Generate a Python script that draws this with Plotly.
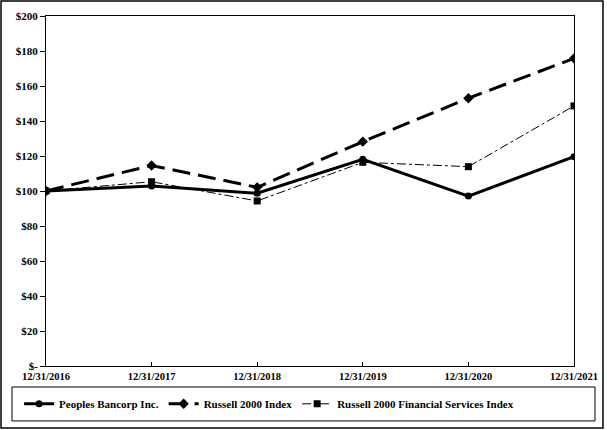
import plotly.graph_objects as go

# data (value of $100 invested)
dates = ["12/31/2016", "12/31/2017", "12/31/2018", "12/31/2019", "12/31/2020", "12/31/2021"]
peoples = [100.0, 102.9, 98.7, 118.1, 97.1, 119.6]
russell = [100.0, 114.6, 102.1, 128.2, 153.0, 175.8]
fin_services = [100.0, 105.3, 94.3, 116.4, 113.9, 148.6]

y_ticks = [0, 20, 40, 60, 80, 100, 120, 140, 160, 180, 200]
y_labels = ["$-", "$20", "$40", "$60", "$80", "$100", "$120", "$140", "$160", "$180", "$200"]

serif = "Liberation Serif"

fig = go.Figure()
fig.add_trace(go.Scatter(
    x=dates, y=peoples, name="Peoples Bancorp Inc.", mode="lines+markers",
    line=dict(color="black", width=3), marker=dict(symbol="circle", size=7, color="black")))
fig.add_trace(go.Scatter(
    x=dates, y=russell, name="Russell 2000 Index", mode="lines+markers",
    line=dict(color="black", width=3, dash="18px,8px"), marker=dict(symbol="diamond", size=8, color="black")))
fig.add_trace(go.Scatter(
    x=dates, y=fin_services, name="Russell 2000 Financial Services Index", mode="lines+markers",
    line=dict(color="black", width=1, dash="dashdot"), marker=dict(symbol="square", size=7, color="black")))

fig.update_layout(
    width=607, height=430,
    margin=dict(l=46, r=33, t=16, b=64, autoexpand=False),
    paper_bgcolor="white", plot_bgcolor="white",
    font=dict(family=serif, size=11, color="black", weight="bold"),
    showlegend=True,
    legend=dict(orientation="h", x=-0.051, xanchor="left", y=-0.108, yanchor="middle",
                bgcolor="rgba(0,0,0,0)",
                font=dict(family=serif, size=11, color="black", weight="bold"),
                itemwidth=30, tracegroupgap=0),
)
fig.update_xaxes(type="category", range=[0, 5], showgrid=False, zeroline=False, automargin=False,
                 showline=True, linecolor="black", linewidth=1, mirror=True,
                 ticks="inside", ticklen=4, tickcolor="black",
                 tickfont=dict(family=serif, size=10.5, color="black", weight="bold"))
fig.update_yaxes(range=[0, 200], tickvals=y_ticks, ticktext=y_labels, showgrid=False, zeroline=False,
                 automargin=False, showline=True, linecolor="black", linewidth=1, mirror=True,
                 ticks="outside", ticklen=5, tickcolor="black",
                 tickfont=dict(family=serif, size=11, color="black", weight="bold"))

# outer frame and legend box
fig.add_shape(type="rect", xref="paper", yref="paper", x0=-0.0852, x1=1.0549, y0=-0.1771, y1=1.0429,
              line=dict(color="black", width=1.5))
fig.add_shape(type="rect", xref="paper", yref="paper", x0=-0.0644, x1=1.0398, y0=-0.157, y1=-0.06,
              line=dict(color="black", width=1))

# drop the browser's default 8px page margin so the figure sits at the window corner
fig.write_html("out.html", config={"displayModeBar": False},
               post_script="document.body.style.margin='0';")
